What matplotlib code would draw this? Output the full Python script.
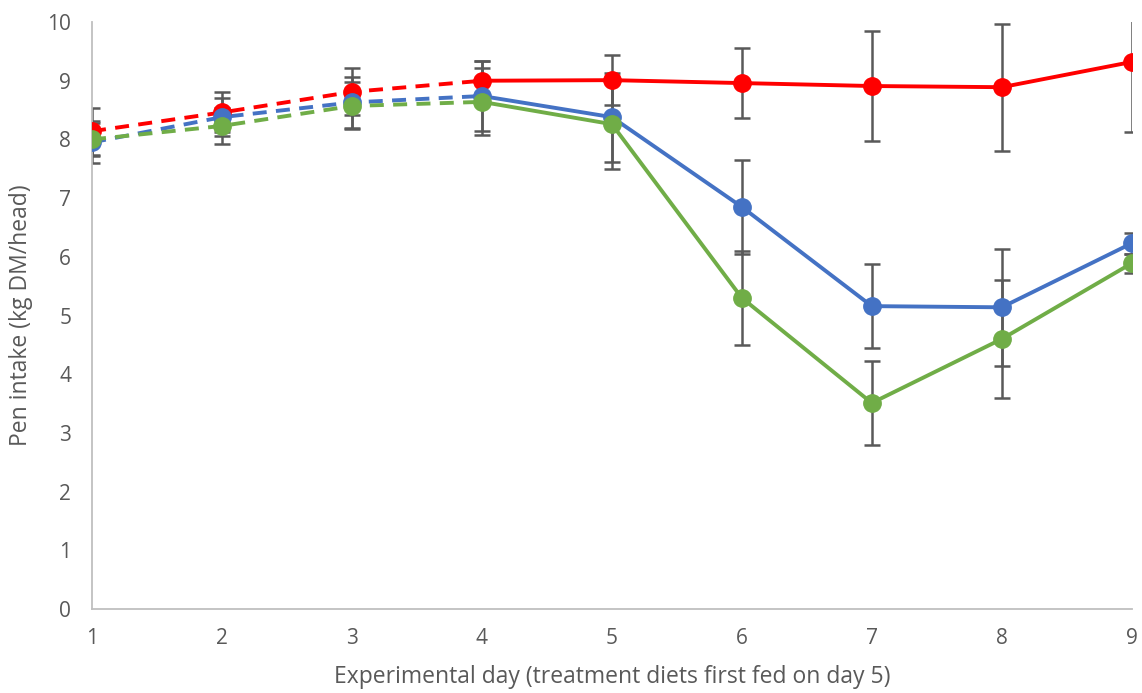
import matplotlib.pyplot as plt

days = [1, 2, 3, 4, 5, 6, 7, 8, 9]

red_vals = [8.14, 8.46, 8.81, 9.00, 9.01, 8.96, 8.91, 8.89, 9.32]
red_err = [0.40, 0.34, 0.40, 0.33, 0.43, 0.60, 0.94, 1.08, 1.20]

blue_vals = [7.95, 8.38, 8.63, 8.74, 8.38, 6.85, 5.16, 5.14, 6.23]
blue_err = [0.36, 0.32, 0.44, 0.60, 0.76, 0.80, 0.71, 1.00, 0.18]

green_vals = [8.00, 8.23, 8.57, 8.64, 8.26, 5.30, 3.51, 4.60, 5.89]
green_err = [0.28, 0.30, 0.40, 0.57, 0.76, 0.80, 0.71, 1.00, 0.16]

series = [
    (red_vals, red_err, "#FF0000"),
    (blue_vals, blue_err, "#4472C4"),
    (green_vals, green_err, "#70AD47"),
]

text_col = "#595959"
plt.rcParams["font.family"] = ["Open Sans", "DejaVu Sans"]

fig = plt.figure(figsize=(11.42, 6.93), dpi=100)
ax = fig.add_axes([0.0806, 0.1212, 0.9104, 0.8470])

# error bars first so the markers sit on top
for vals, err, col in series:
    ax.errorbar(days, vals, yerr=err, fmt="none", ecolor="#595959",
                elinewidth=1.8, capsize=6, capthick=1.8, zorder=2)

# pre-treatment days dashed, treatment days solid
for vals, err, col in series:
    ax.plot(days[:4], vals[:4], color=col, lw=2.8, ls=(0, (3.6, 2.4)), zorder=3)
    ax.plot(days[3:], vals[3:], color=col, lw=2.8, zorder=3)
    ax.plot(days, vals, "o", color=col, ms=12.5, zorder=4)

ax.set_xlim(1, 9)
ax.set_ylim(0, 10)
ax.set_xticks(days)
ax.set_yticks(range(0, 11))

for s in ["top", "right"]:
    ax.spines[s].set_visible(False)
for s in ["left", "bottom"]:
    ax.spines[s].set_color("#BFBFBF")
    ax.spines[s].set_linewidth(1.3)

ax.tick_params(length=0, labelsize=15, colors=text_col)
ax.tick_params(axis="x", pad=14)
ax.tick_params(axis="y", pad=15)

ax.set_xlabel("Experimental day (treatment diets first fed on day 5)",
              fontsize=16.5, color=text_col, labelpad=11)
ax.set_ylabel("Pen intake (kg DM/head)", fontsize=16.5, color=text_col,
              labelpad=10)

fig.savefig("out.png", dpi=100)
